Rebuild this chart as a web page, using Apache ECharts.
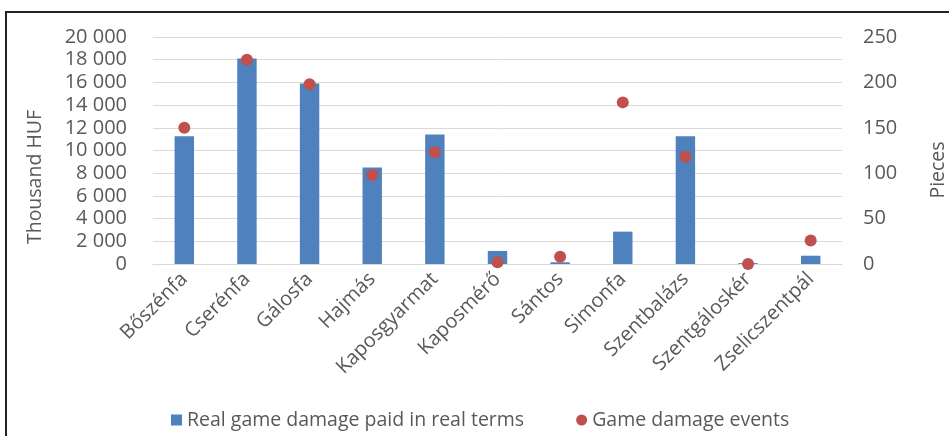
<!DOCTYPE html>
<html>
<head>
<meta charset="UTF-8">
<title>Game damage</title>
<script src="https://cdn.jsdelivr.net/npm/echarts@6/dist/echarts.min.js"></script>
<style>
  html, body { margin: 0; padding: 0; background: #fff; }
  #chart { width: 949px; height: 436px; }
</style>
</head>
<body>
<div id="chart"></div>
<script>
// settlements
var villages = ['Bőszénfa', 'Cserénfa', 'Gálosfa', 'Hajmás', 'Kaposgyarmat', 'Kaposmérő',
  'Sántos', 'Simonfa', 'Szentbalázs', 'Szentgáloskér', 'Zselicszentpál'];
// thousand HUF
var damagePaid = [11250, 18100, 15900, 8500, 11400, 1150, 150, 2850, 11250, 80, 730];
// pieces
var damageEvents = [150, 225, 198, 98, 123, 2, 8, 178, 118, 0, 26];

var textColor = '#595959';
var font = 'Open Sans';

function spaced(v) {
  return String(v).replace(/\B(?=(\d{3})+(?!\d))/g, ' ');
}

var chart = echarts.init(document.getElementById('chart'));
chart.setOption({
  animation: false,
  textStyle: { fontFamily: font },
  grid: { left: 153, right: 107, top: 37, bottom: 172 },
  legend: {
    bottom: 1,
    left: 166,
    itemGap: 52,
    itemWidth: 11,
    itemHeight: 11,
    textStyle: { color: textColor, fontSize: 19.5, fontFamily: font },
    data: [
      { name: 'Real game damage paid in real terms', icon: 'rect' },
      { name: 'Game damage events', icon: 'circle' }
    ]
  },
  xAxis: {
    type: 'category',
    data: villages,
    axisTick: { show: false },
    axisLine: { lineStyle: { color: '#d9d9d9' } },
    axisLabel: { rotate: 45, color: textColor, fontSize: 20, margin: 12, interval: 0 }
  },
  yAxis: [{
    type: 'value',
    min: 0, max: 20000, interval: 2000,
    axisLabel: { color: textColor, fontSize: 20, margin: 26, formatter: spaced },
    splitLine: { lineStyle: { color: '#d9d9d9' } }
  }, {
    type: 'value',
    min: 0, max: 250, interval: 50,
    axisLabel: { color: textColor, fontSize: 20, margin: 21 },
    splitLine: { show: false }
  }],
  graphic: [
    { type: 'rect', shape: { x: 6, y: 12, width: 960, height: 440 },
      style: { fill: 'none', stroke: '#222', lineWidth: 2 }, silent: true },
    { type: 'text', x: 25, y: 177, rotation: Math.PI / 2,
      style: { text: 'Thousand HUF', fill: textColor, fontSize: 19.5, fontFamily: font,
        align: 'center', verticalAlign: 'top' } },
    { type: 'text', x: 928, y: 170, rotation: Math.PI / 2,
      style: { text: 'Pieces', fill: textColor, fontSize: 19.5, fontFamily: font,
        align: 'center', verticalAlign: 'top' } }
  ],
  series: [{
    name: 'Real game damage paid in real terms',
    type: 'bar',
    data: damagePaid,
    barWidth: '31%',
    itemStyle: { color: '#4f81bd' }
  }, {
    name: 'Game damage events',
    type: 'scatter',
    yAxisIndex: 1,
    data: damageEvents,
    symbolSize: 12,
    itemStyle: { color: '#c0504d', opacity: 1 }
  }]
});
</script>
</body>
</html>
